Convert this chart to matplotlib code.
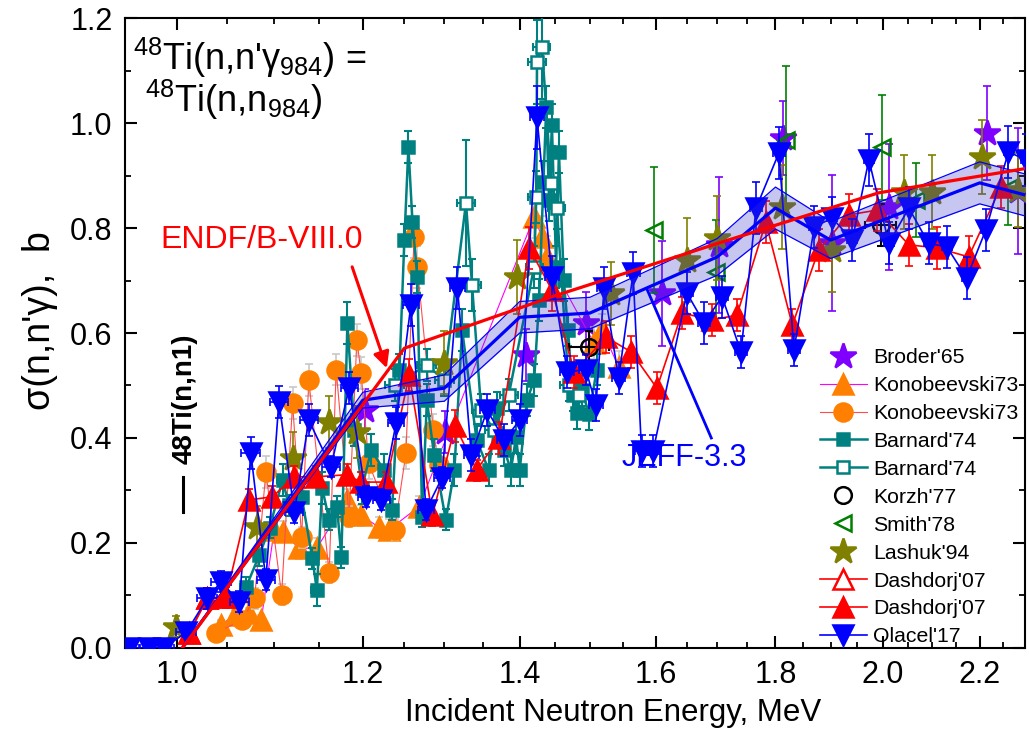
import numpy as np
import matplotlib
matplotlib.use('Agg')
import matplotlib.pyplot as plt
from matplotlib.ticker import FixedLocator, FuncFormatter, NullFormatter

plt.rcParams['font.family'] = ['Liberation Sans', 'DejaVu Sans']
plt.rcParams['mathtext.fontset'] = 'custom'
plt.rcParams['mathtext.rm'] = 'Liberation Sans'
plt.rcParams['mathtext.it'] = 'Liberation Sans'
plt.rcParams['mathtext.bf'] = 'Liberation Sans:bold'

# ---------------- data (E in MeV, sigma in b) ----------------
brod_e = [1.203, 1.301, 1.409, 1.494, 1.610, 1.703, 1.813, 1.903, 2.012, 2.216, 2.285]
brod_s = [0.453, 0.411, 0.558, 0.619, 0.676, 0.768, 0.971, 0.771, 0.840, 0.981, 0.870]
brod_err = [0.04, 0.04, 0.05, 0.06, 0.10, 0.13, 0.07, 0.13, 0.12, 0.09, 0.12]

kont_e = [1.044, 1.058, 1.073, 1.086, 1.100, 1.109, 1.127, 1.147, 1.181, 1.198,
          1.219, 1.231, 1.268, 1.420, 1.431, 1.438, 1.506, 1.518, 1.543]
kont_s = [0.044, 0.063, 0.067, 0.053, 0.225, 0.221, 0.190, 0.190, 0.282, 0.253,
          0.230, 0.225, 0.269, 0.821, 0.783, 0.745, 0.581, 0.606, 0.535]
kont_err = [0.01, 0.01, 0.01, 0.01, 0.02, 0.02, 0.02, 0.02, 0.02, 0.02,
            0.02, 0.02, 0.02, 0.04, 0.04, 0.04, 0.03, 0.03, 0.03]

konc_e = [1.039, 1.066, 1.079, 1.091, 1.108, 1.120, 1.130, 1.138, 1.161, 1.169,
          1.184, 1.193, 1.198, 1.207, 1.238, 1.252, 1.262, 1.266, 1.286, 1.293]
konc_s = [0.029, 0.053, 0.095, 0.335, 0.101, 0.467, 0.211, 0.510, 0.143, 0.530,
          0.250, 0.587, 0.524, 0.352, 0.225, 0.371, 0.783, 0.726, 0.415, 0.349]
konc_err = [0.01, 0.01, 0.02, 0.03, 0.02, 0.03, 0.02, 0.03, 0.02, 0.03,
            0.02, 0.03, 0.03, 0.03, 0.02, 0.03, 0.04, 0.04, 0.03, 0.03]

barf_e = [1.070, 1.084, 1.095, 1.109, 1.116, 1.130, 1.142, 1.147, 1.153, 1.161,
          1.170, 1.175, 1.182, 1.190, 1.199, 1.210, 1.225, 1.235, 1.244, 1.250,
          1.255, 1.260, 1.266, 1.272, 1.278, 1.287, 1.302, 1.313, 1.323, 1.342,
          1.358, 1.369, 1.379, 1.388, 1.395, 1.400, 1.410, 1.420, 1.427, 1.433,
          1.437, 1.441, 1.445, 1.451, 1.455, 1.462, 1.468, 1.475, 1.481, 1.488,
          1.499, 1.510]
barf_s = [0.116, 0.177, 0.229, 0.320, 0.272, 0.288, 0.171, 0.110, 0.305, 0.244,
          0.269, 0.173, 0.619, 0.415, 0.305, 0.377, 0.339, 0.263, 0.530, 0.777,
          0.954, 0.811, 0.707, 0.250, 0.472, 0.368, 0.244, 0.339, 0.606, 0.396,
          0.339, 0.457, 0.377, 0.339, 0.402, 0.339, 0.472, 0.510, 0.663, 0.888,
          1.030, 0.853, 0.996, 0.726, 0.945, 0.701, 0.606, 0.482, 0.448, 0.491,
          0.445, 0.530]
barf_err = [0.02, 0.02, 0.02, 0.03, 0.02, 0.03, 0.02, 0.03, 0.03, 0.02,
            0.02, 0.02, 0.04, 0.03, 0.03, 0.03, 0.03, 0.02, 0.03, 0.03,
            0.03, 0.03, 0.03, 0.02, 0.03, 0.03, 0.02, 0.03, 0.04, 0.03,
            0.03, 0.03, 0.03, 0.03, 0.03, 0.03, 0.03, 0.03, 0.04, 0.04,
            0.04, 0.04, 0.04, 0.04, 0.04, 0.04, 0.03, 0.03, 0.03, 0.03,
            0.03, 0.03]
barf_xerr = 0.006

baro_e = [1.238, 1.278, 1.300, 1.328, 1.336, 1.348, 1.365, 1.385, 1.420, 1.423,
          1.424, 1.431, 1.444, 1.452, 1.469, 1.484]
baro_s = [0.501, 0.539, 0.510, 0.848, 0.691, 0.453, 0.415, 0.482, 0.726, 0.859,
          1.116, 1.145, 0.886, 0.838, 0.501, 0.482]
baro_err = [0.03, 0.03, 0.03, 0.12, 0.05, 0.03, 0.03, 0.03, 0.04, 0.05,
            0.08, 0.10, 0.05, 0.04, 0.03, 0.03]
baro_xerr = 0.012

korzh_e = [1.499, 1.996]
korzh_s = [0.573, 0.806]
korzh_err = [0.03, 0.04]
korzh_xerr = [0.03, 0.03]

smith_e = [1.598, 1.697, 1.818, 1.998, 2.066, 2.263]
smith_s = [0.796, 0.716, 0.968, 0.954, 0.853, 0.876]
smith_err = [0.12, 0.10, 0.14, 0.10, 0.07, 0.07]

lash_e = [0.999, 1.081, 1.120, 1.161, 1.193, 1.300, 1.396, 1.531, 1.650, 1.699,
          1.811, 1.903, 2.042, 2.099, 2.204, 2.285]
lash_s = [0.040, 0.230, 0.362, 0.430, 0.411, 0.543, 0.707, 0.676, 0.739, 0.781,
          0.840, 0.758, 0.869, 0.869, 0.935, 0.872]
lash_err = [0.02, 0.04, 0.05, 0.05, 0.05, 0.06, 0.07, 0.06, 0.08, 0.08,
            0.08, 0.08, 0.07, 0.07, 0.07, 0.07]

dasho_e = [1.012, 1.030, 1.049]
dasho_s = [0.029, 0.095, 0.097]
dasho_err = [0.01, 0.02, 0.02]

dash_e = [1.012, 1.030, 1.049, 1.073, 1.098, 1.122, 1.146, 1.181, 1.198, 1.228,
          1.256, 1.285, 1.314, 1.342, 1.372, 1.413, 1.445, 1.477, 1.524, 1.562,
          1.602, 1.642, 1.691, 1.733, 1.783, 1.830, 1.878, 1.934, 1.988, 2.052,
          2.110, 2.176, 2.246]
dash_s = [0.029, 0.095, 0.097, 0.282, 0.288, 0.326, 0.326, 0.330, 0.316, 0.316,
          0.520, 0.253, 0.423, 0.339, 0.400, 0.762, 0.682, 0.526, 0.592, 0.564,
          0.495, 0.638, 0.625, 0.634, 0.811, 0.615, 0.758, 0.825, 0.834, 0.768,
          0.762, 0.745, 0.878]
dash_err = [0.01, 0.02, 0.02, 0.02, 0.02, 0.02, 0.02, 0.02, 0.02, 0.02,
            0.03, 0.02, 0.03, 0.02, 0.03, 0.04, 0.04, 0.03, 0.03, 0.03,
            0.03, 0.03, 0.03, 0.03, 0.04, 0.03, 0.04, 0.04, 0.04, 0.04,
            0.04, 0.04, 0.04]

ola_e = [0.954, 0.973, 0.987, 1.009, 1.030, 1.044, 1.063, 1.075, 1.091, 1.105,
         1.122, 1.138, 1.163, 1.184, 1.204, 1.222, 1.240, 1.258, 1.277, 1.297,
         1.317, 1.335, 1.356, 1.379, 1.400, 1.424, 1.445, 1.467, 1.494, 1.509,
         1.521, 1.543, 1.565, 1.578, 1.596, 1.650, 1.678, 1.708, 1.740, 1.766,
         1.806, 1.833, 1.870, 1.903, 1.941, 1.973, 2.012, 2.052, 2.092, 2.130,
         2.172, 2.213, 2.263, 2.302]
ola_s = [0.0, 0.0, 0.0, 0.030, 0.095, 0.126, 0.088, 0.371, 0.130, 0.469,
         0.259, 0.434, 0.345, 0.495, 0.288, 0.282, 0.429, 0.653, 0.263, 0.324,
         0.686, 0.368, 0.453, 0.396, 0.434, 1.011, 0.707, 0.526, 0.530, 0.463,
         0.686, 0.514, 0.714, 0.375, 0.375, 0.676, 0.619, 0.669, 0.564, 0.838,
         0.943, 0.568, 0.802, 0.819, 0.777, 0.930, 0.771, 0.838, 0.771, 0.764,
         0.705, 0.796, 0.945, 0.930]
ola_err = [0.01, 0.01, 0.01, 0.01, 0.02, 0.02, 0.02, 0.03, 0.02, 0.03,
           0.02, 0.03, 0.02, 0.03, 0.02, 0.02, 0.03, 0.04, 0.02, 0.02,
           0.04, 0.03, 0.03, 0.03, 0.03, 0.06, 0.04, 0.03, 0.03, 0.03,
           0.04, 0.03, 0.04, 0.03, 0.03, 0.04, 0.04, 0.04, 0.03, 0.05,
           0.05, 0.03, 0.04, 0.04, 0.04, 0.05, 0.04, 0.04, 0.04, 0.04,
           0.04, 0.04, 0.05, 0.05]
ola_xerr = 0.01

endf_e = [1.005, 1.25, 1.445, 1.707, 1.992, 2.306]
endf_s = [0.0, 0.571, 0.669, 0.773, 0.867, 0.914]

jeff_e = [1.005, 1.2, 1.3, 1.4, 1.5, 1.7, 1.8, 1.9, 2.2, 2.3]
jeff_s = [0.0, 0.472, 0.495, 0.630, 0.638, 0.745, 0.838, 0.777, 0.886, 0.863]
jeff_unc = [0.0, 0.015, 0.025, 0.03, 0.03, 0.035, 0.04, 0.035, 0.04, 0.04]

x_major = [1.0, 1.2, 1.4, 1.6, 1.8, 2.0, 2.2]

# ---------------- figure ----------------
fig = plt.figure(figsize=(10.29, 7.33), dpi=100)
ax = fig.add_axes([0.1215, 0.116, 0.8746, 0.8594])
ax.set_xscale('log')


def exp_set(e, s, err, color, marker, label, ms, mfc=None, line=None, lw=1.2,
            xerr=None, ecolor=None, elw=1.2, z=3):
    ax.errorbar(e, s, yerr=err, xerr=xerr, fmt='none', ecolor=ecolor or color,
                elinewidth=elw, capsize=3, capthick=elw, zorder=z)
    ax.plot(e, s, ls='-' if line else 'none', color=line or color, lw=lw,
            marker=marker, ms=ms, mfc=mfc or color, mec=color, mew=1.8,
            label=label, zorder=z)


exp_set(brod_e, brod_s, brod_err, '#8000ff', '*', "Broder'65", 19)
exp_set(kont_e, kont_s, kont_err, '#ff8000', '^', 'Konobeevski73', 14,
        line='#ff00ff', lw=0.8, ecolor='#c8c8c8')
exp_set(konc_e, konc_s, konc_err, '#ff8000', 'o', 'Konobeevski73', 13,
        line='#ff4d4d', lw=0.8, ecolor='#c8c8c8')
exp_set(barf_e, barf_s, barf_err, '#008080', 's', "Barnard'74", 8.5,
        line='#008080', lw=1.8, xerr=barf_xerr, elw=1.5)
exp_set(baro_e, baro_s, baro_err, '#008080', 's', "Barnard'74", 8.5, mfc='white',
        line='#008080', lw=1.8, xerr=baro_xerr, elw=1.5)
exp_set(korzh_e, korzh_s, korzh_err, 'black', 'o', "Korzh'77", 12, mfc='none',
        xerr=korzh_xerr, elw=1.5)
exp_set(smith_e, smith_s, smith_err, '#008000', '<', "Smith'78", 12, mfc='none')
exp_set(lash_e, lash_s, lash_err, '#808000', '*', "Lashuk'94", 19)
exp_set(dasho_e, dasho_s, dasho_err, '#ff0000', '^', "Dashdorj'07", 14,
        mfc='white', line='#ff0000')
exp_set(dash_e, dash_s, dash_err, '#ff0000', '^', "Dashdorj'07", 14,
        line='#ff0000')
exp_set(ola_e, ola_s, ola_err, '#0000ff', 'v', "Olacel'17", 14,
        line='#0000ff', xerr=ola_xerr)

# evaluations
jeff_lo = np.array(jeff_s) - np.array(jeff_unc)
jeff_hi = np.array(jeff_s) + np.array(jeff_unc)
ax.fill_between(jeff_e, jeff_lo, jeff_hi, color='#3333cc', alpha=0.28, lw=0, zorder=6)
ax.plot(jeff_e, jeff_lo, color='#0000ff', lw=0.9, zorder=6)
ax.plot(jeff_e, jeff_hi, color='#0000ff', lw=0.9, zorder=6)
ax.plot(jeff_e, jeff_s, color='#0000ff', lw=2.3, zorder=7)
ax.plot(endf_e, endf_s, color='#ff0000', lw=2.3, zorder=7)

# annotations
ax.text(1.086, 0.777, 'ENDF/B-VIII.0', color='red', fontsize=23,
        ha='center', va='center', zorder=8)
ax.annotate('', xy=(1.2286, 0.533), xytext=(1.1875, 0.726),
            arrowprops=dict(arrowstyle='-|>', color='red', lw=2.2,
                            mutation_scale=24, shrinkA=0, shrinkB=0), zorder=8)
ax.text(1.645, 0.362, 'JEFF-3.3', color='blue', fontsize=22,
        ha='center', va='center', zorder=8)
ax.plot([1.690, 1.587], [0.40, 0.682], color='blue', lw=2.0, zorder=8)

ax.text(0.009, 0.917, r"$^{48}$Ti(n,n'$\gamma_{984}$) =", transform=ax.transAxes,
        fontsize=26, ha='left', va='baseline')
ax.text(0.022, 0.851, r"$^{48}$Ti(n,n$_{984}$)", transform=ax.transAxes,
        fontsize=26, ha='left', va='baseline')
ax.text(0.0667, 0.395, '48Ti(n,n1)', transform=ax.transAxes, rotation=90,
        fontsize=20, fontweight='bold', ha='center', va='center')
ax.plot([0.0644, 0.0644], [0.216, 0.271], transform=ax.transAxes,
        color='black', lw=2.2)

# axes styling
ax.set_xlim(0.95, 2.3)
ax.set_ylim(0, 1.2)
ax.xaxis.set_major_locator(FixedLocator(x_major))
ax.xaxis.set_major_formatter(FuncFormatter(lambda v, p: '{:.1f}'.format(v)))
ax.xaxis.set_minor_locator(FixedLocator(np.arange(0.95, 2.31, 0.05)))
ax.xaxis.set_minor_formatter(NullFormatter())
ax.yaxis.set_major_locator(FixedLocator(np.arange(0, 1.21, 0.2)))
ax.yaxis.set_major_formatter(FuncFormatter(lambda v, p: '{:.1f}'.format(v)))
ax.yaxis.set_minor_locator(FixedLocator(np.arange(0.1, 1.2, 0.2)))
ax.tick_params(which='both', direction='in', top=True, right=True)
ax.tick_params(which='major', length=8.5, width=1.5, labelsize=22, pad=9)
ax.tick_params(which='minor', length=4.5, width=1.3)
for sp in ax.spines.values():
    sp.set_linewidth(1.5)

ax.set_xlabel('Incident Neutron Energy, MeV', fontsize=22.5)
ax.xaxis.set_label_coords(0.542, -0.079)
ax.set_ylabel("σ(n,n'γ),  b", fontsize=27)
ax.yaxis.set_label_coords(-0.074, 0.52)

leg = ax.legend(loc='upper left', bbox_to_anchor=(0.772, 0.476), frameon=False,
                fontsize=15.3, borderpad=0, borderaxespad=0, handlelength=2.2,
                handletextpad=0.3, labelspacing=0.42)
leg.set_zorder(10)

fig.savefig('out.png', dpi=100)
